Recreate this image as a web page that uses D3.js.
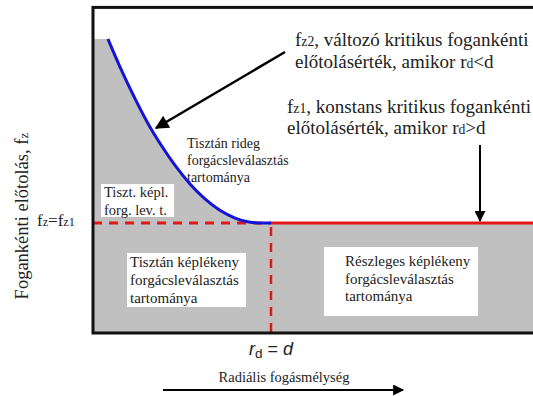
<!DOCTYPE html>
<html>
<head>
<meta charset="utf-8">
<script src="https://cdn.jsdelivr.net/npm/d3@7"></script>
<style>
  body { margin: 0; background: #fff; }
  svg { display: block; }
</style>
</head>
<body>
<svg id="chart" width="533" height="396"></svg>
<script>
// critical feed curve fz2(rd), in units of d (x) and fz1 (y)
const curveRd = [0.084, 0.152, 0.236, 0.320, 0.388, 0.461, 0.545, 0.629, 0.713, 0.798, 0.882, 0.949, 1.0];
const curveFz = [2.673, 2.418, 2.131, 1.873, 1.695, 1.523, 1.355, 1.219, 1.115, 1.045, 1.007, 1.0, 1.0];
const fz1 = 1;
const dVal = 1;
const rdMax = 2.5;
const fzTop = 2.96;

const regionLabels = [
  ['Tiszt. képl.', 'forg. lev. t.'],
  ['Tisztán rideg', 'forgácsleválasztás', 'tartománya'],
  ['Tisztán képlékeny', 'forgácsleválasztás', 'tartománya'],
  ['Részleges képlékeny', 'forgácsleválasztás', 'tartománya']
];

const SERIF = '"Liberation Serif", "Times New Roman", Times, serif';
const SANS = '"Liberation Sans", Arial, sans-serif';

const svg = d3.select('#chart');
const x = d3.scaleLinear().domain([0, dVal]).range([93, 271]);
const y = d3.scaleLinear().domain([0, fz1]).range([333, 223]);

const pts = curveRd.map((r, i) => ({ r, f: curveFz[i] }));
const gray = '#c0c0c0';

// --- gray regions ---
svg.append('rect')
  .attr('x', x(0)).attr('y', y(curveFz[0]))
  .attr('width', x(curveRd[0]) - x(0) + 1).attr('height', y(0) - y(curveFz[0]))
  .attr('fill', gray);

svg.append('path')
  .datum(pts)
  .attr('d', d3.area().x(d => x(d.r)).y0(y(0)).y1(d => y(d.f)).curve(d3.curveMonotoneX))
  .attr('fill', gray);

svg.append('rect')
  .attr('x', x(dVal) - 1).attr('y', y(fz1))
  .attr('width', x(rdMax) - x(dVal) + 20).attr('height', y(0) - y(fz1))
  .attr('fill', gray);

// --- white label boxes + text ---
function stext(size) {
  return svg.append('text').attr('font-family', SERIF).attr('font-size', size).attr('fill', '#222');
}
function label(lines, x0, yc, size, lh) {
  const t = stext(size);
  lines.forEach((l, i) => {
    t.append('tspan').attr('x', x0).attr('y', yc + i * lh).attr('dy', '0.35em').text(l);
  });
  return t;
}
function box(x0, y0, x1, y1) {
  svg.append('rect').attr('x', x0).attr('y', y0)
    .attr('width', x1 - x0).attr('height', y1 - y0).attr('fill', '#fff');
}

box(101, 184, 174, 217);
label(regionLabels[0], 104, 192, 14.5, 18);

label(regionLabels[1], 187, 143, 14, 17);

box(127, 253, 246, 307);
label(regionLabels[2], 130, 262, 15, 18);

box(324, 247, 478, 316);
label(regionLabels[3], 345, 261, 15, 17.5);

// --- red lines ---
const dash = '9,7';
svg.append('line')
  .attr('x1', x(0)).attr('x2', x(dVal)).attr('y1', y(fz1)).attr('y2', y(fz1))
  .attr('stroke', '#e01818').attr('stroke-width', 3).attr('stroke-dasharray', dash);
svg.append('line')
  .attr('x1', x(dVal)).attr('x2', x(dVal)).attr('y1', y(fz1) + 4).attr('y2', y(0) + 4)
  .attr('stroke', '#e01818').attr('stroke-width', 2.5).attr('stroke-dasharray', dash);
svg.append('line')
  .attr('x1', x(dVal)).attr('x2', x(rdMax) + 20).attr('y1', y(fz1)).attr('y2', y(fz1))
  .attr('stroke', '#e01818').attr('stroke-width', 3);

// --- blue curve ---
svg.append('path')
  .datum(pts)
  .attr('d', d3.line().x(d => x(d.r)).y(d => y(d.f)).curve(d3.curveMonotoneX))
  .attr('fill', 'none').attr('stroke', '#1414d8').attr('stroke-width', 3);

// --- frame ---
svg.append('rect')
  .attr('x', x(0)).attr('y', y(fzTop))
  .attr('width', x(rdMax) - x(0) + 20).attr('height', y(0) - y(fzTop))
  .attr('fill', 'none').attr('stroke', '#111').attr('stroke-width', 3);

// --- arrows ---
const defs = svg.append('defs');
defs.append('marker').attr('id', 'head')
  .attr('viewBox', '0 0 10 10').attr('refX', 9).attr('refY', 5)
  .attr('markerWidth', 6).attr('markerHeight', 5.5).attr('orient', 'auto')
  .attr('markerUnits', 'strokeWidth')
  .append('path').attr('d', 'M0,0L10,5L0,10z').attr('fill', '#000');

function arrow(x1, y1, x2, y2, w) {
  svg.append('line').attr('x1', x1).attr('y1', y1).attr('x2', x2).attr('y2', y2)
    .attr('stroke', '#000').attr('stroke-width', w).attr('marker-end', 'url(#head)');
}
arrow(285, 52, 156, 128, 2.5);
arrow(480, 145, 480, 221, 2);
arrow(163, 390, 403, 390, 2);

// --- annotations ---
function sub(t, main, small) {
  t.append('tspan').text(main);
  t.append('tspan').attr('font-size', '0.72em').text(small);
}
let t = stext(19).attr('x', 295).attr('y', 46);
sub(t, 'f', 'z2');
t.append('tspan').text(', változó kritikus fogankénti');
t = stext(19).attr('x', 295).attr('y', 68);
t.append('tspan').text('előtolásérték, amikor r');
t.append('tspan').attr('font-size', '0.72em').text('d');
t.append('tspan').text('<d');

t = stext(19).attr('x', 287).attr('y', 113);
sub(t, 'f', 'z1');
t.append('tspan').text(', konstans kritikus fogankénti');
t = stext(19).attr('x', 287).attr('y', 134);
t.append('tspan').text('előtolásérték, amikor r');
t.append('tspan').attr('font-size', '0.72em').text('d');
t.append('tspan').text('>d');

// fz = fz1 tick label
t = stext(17).attr('x', 37).attr('y', y(fz1)).attr('dy', '0.15em');
sub(t, 'f', 'z');
sub(t, '=f', 'z1');

// y axis title
t = stext(18.5).attr('text-anchor', 'middle')
  .attr('transform', 'translate(28,216) rotate(-90)');
sub(t, 'Fogankénti előtolás, f', 'z');

// rd = d
t = svg.append('text').attr('font-family', SANS).attr('font-size', 18).attr('fill', '#222')
  .attr('text-anchor', 'middle').attr('x', x(dVal)).attr('y', 355);
t.append('tspan').attr('font-style', 'italic').text('r');
t.append('tspan').attr('font-size', '0.75em').attr('dy', 3).text('d');
t.append('tspan').attr('dy', -3).text(' = ');
t.append('tspan').attr('font-style', 'italic').text('d');

// x axis title
stext(14.5).attr('text-anchor', 'middle').attr('x', 284).attr('y', 382)
  .text('Radiális fogásmélység');
</script>
</body>
</html>
